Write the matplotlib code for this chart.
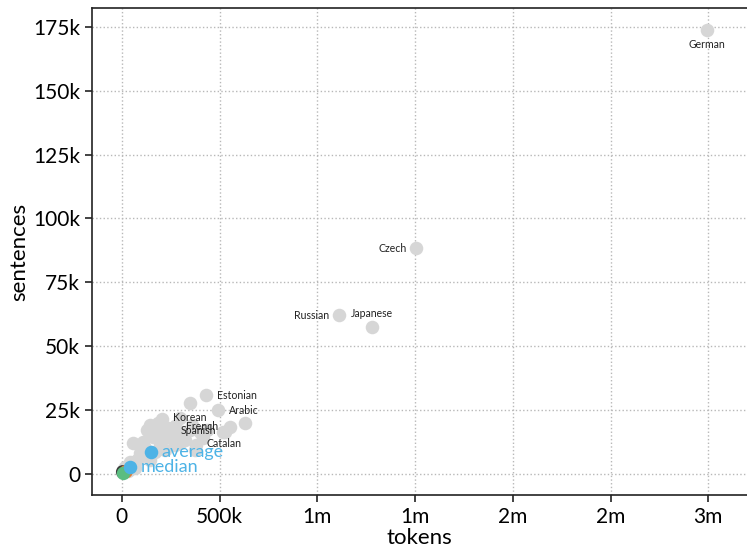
import matplotlib.pyplot as plt
import matplotlib.ticker as mticker

plt.rcParams['font.family'] = ['Lato', 'DejaVu Sans']

# treebanks: tokens vs sentences
other_tokens = [348e3, 630e3, 553e3, 527e3, 143e3, 184e3, 256e3, 358e3, 399e3,
                435e3, 517e3, 56e3, 107e3, 159e3, 230e3, 281e3, 92e3, 77e3,
                15e3, 5e3, 128e3, 194e3, 322e3, 348e3, 220e3, 143e3, 41e3,
                118e3, 271e3, 312e3, 0, 31e3, 67e3, 169e3, 297e3, 235e3,
                415e3, 374e3, 210e3, 265e3, 190e3, 300e3]
other_sents = [27.8e3, 19.9e3, 18.4e3, 16.4e3, 19.2e3, 19.9e3, 17.2e3, 19.2e3, 16.4e3,
               17.2e3, 16.4e3, 12.1e3, 12.5e3, 14.5e3, 14.5e3, 14.5e3, 8.2e3, 5.5e3,
               2.7e3, 1.6e3, 17.2e3, 11.3e3, 13.3e3, 17.2e3, 9.4e3, 5.5e3, 4.7e3,
               10.2e3, 11.3e3, 16.4e3, 0.8e3, 1.2e3, 2.3e3, 8.6e3, 21.9e3, 18.0e3,
               14.1e3, 9.4e3, 15.5e3, 13.0e3, 16.5e3, 12.0e3]

names = ['German', 'Czech', 'Russian', 'Japanese', 'Estonian', 'Arabic',
         'Korean', 'French', 'Spanish', 'Catalan']
name_tokens = [2994e3, 1505e3, 1111e3, 1280e3, 430e3, 491e3, 205e3, 271e3, 246e3, 379e3]
name_sents = [173.6e3, 88.4e3, 62.2e3, 57.5e3, 30.9e3, 25.0e3, 21.5e3, 18.8e3, 17.2e3, 11.3e3]
# label placement: (dx, dy, ha, va) in points
label_pos = [(0, -6, 'center', 'top'), (-7, 0, 'right', 'center'),
             (-7, 0, 'right', 'center'), (0, 6, 'center', 'bottom'),
             (8, 0, 'left', 'center'), (8, 0, 'left', 'center'),
             (8, 1, 'left', 'center'), (8, 0, 'left', 'center'),
             (8, 0, 'left', 'center'), (8, 1, 'left', 'center')]

avg_tokens, avg_sents = 148e3, 8.6e3
med_tokens, med_sents = 41e3, 2.7e3

small_tokens = [5e3, 22e3, 9e3]
small_sents = [0.9e3, 1.0e3, 0.3e3]
small_colors = ['#3a3a3a', '#ec7a2c', '#5bbd80']

gray = '#d6d6d6'
blue = '#4db3e6'

fig = plt.figure(figsize=(7.47, 5.52), dpi=100)
ax = fig.add_axes([0.123, 0.103, 0.877, 0.8825])

ax.scatter(other_tokens, other_sents, s=95, color=gray, linewidths=0, zorder=2)
ax.scatter(name_tokens, name_sents, s=95, color=gray, linewidths=0, zorder=2)
for n, x, y, (dx, dy, ha, va) in zip(names, name_tokens, name_sents, label_pos):
    ax.annotate(n, (x, y), xytext=(dx, dy), textcoords='offset points',
                ha=ha, va=va, fontsize=7.6, color='#222222', zorder=5)

ax.scatter(small_tokens, small_sents, s=95, c=small_colors, linewidths=0, zorder=3)

ax.scatter([avg_tokens, med_tokens], [avg_sents, med_sents], s=95, color=blue,
           linewidths=0, zorder=4)
ax.annotate('average', (avg_tokens, avg_sents), xytext=(8, 0), textcoords='offset points',
            ha='left', va='center', fontsize=13, color=blue, zorder=5)
ax.annotate('median', (med_tokens, med_sents), xytext=(8, 0), textcoords='offset points',
            ha='left', va='center', fontsize=13, color=blue, zorder=5)

ax.set_xlim(-153e3, 3.198e6)
ax.set_ylim(-8.2e3, 182.3e3)

ax.set_xticks([0, 0.5e6, 1e6, 1.5e6, 2e6, 2.5e6, 3e6])
ax.set_yticks([0, 25e3, 50e3, 75e3, 100e3, 125e3, 150e3, 175e3])


def fmt(v, pos):
    if v == 0:
        return '0'
    if v >= 1e6:
        return '%dm' % int(v / 1e6)
    return '%dk' % int(v / 1e3)


ax.xaxis.set_major_formatter(mticker.FuncFormatter(fmt))
ax.yaxis.set_major_formatter(mticker.FuncFormatter(fmt))
ax.tick_params(labelsize=15, length=5, width=1.2, color='#222222')

ax.grid(True, linestyle=':', color='#b8b8b8', linewidth=1)
ax.set_axisbelow(True)
for side in ['left', 'bottom', 'top']:
    ax.spines[side].set_linewidth(1.2)
    ax.spines[side].set_color('#222222')
ax.spines['right'].set_visible(False)

ax.set_xlabel('tokens', fontsize=16)
ax.set_ylabel('sentences', fontsize=16)
ax.xaxis.labelpad = 1
ax.yaxis.labelpad = 3

fig.savefig('out.png', dpi=100)
